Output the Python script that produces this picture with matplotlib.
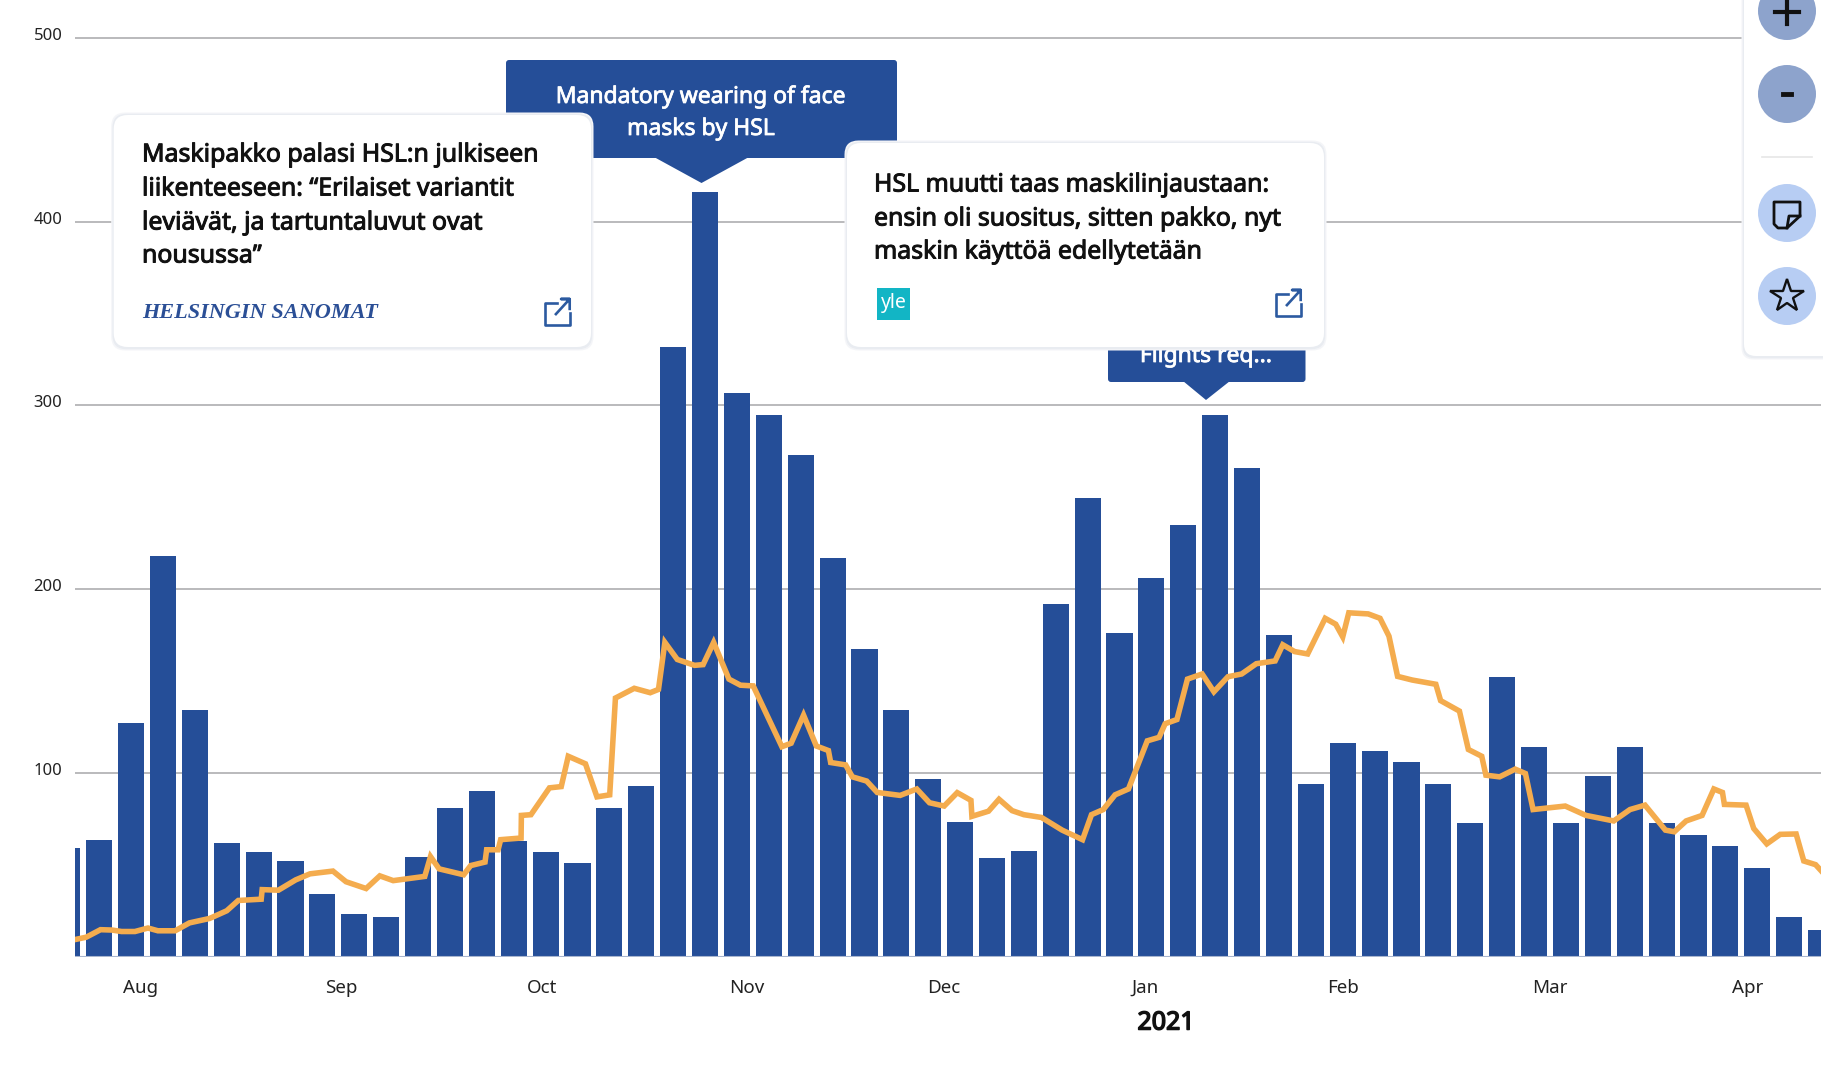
import numpy as np
import matplotlib
matplotlib.use("Agg")
import matplotlib.pyplot as plt
import matplotlib.patheffects as pe
from matplotlib.patches import FancyBboxPatch, Polygon, Circle, Rectangle
from matplotlib.transforms import ScaledTranslation

plt.rcParams["font.family"] = ["Noto Sans", "DejaVu Sans"]

# weekly bars
bar_values = [59, 63.5, 127, 218, 134, 62, 57, 52, 34, 23, 21.7, 54, 81, 90, 63, 57, 51, 81, 93,
              332, 416, 307, 295, 273, 217, 167.6, 134, 96.4, 73, 53.6, 57.7, 191.8, 249.7, 176,
              206, 235, 295, 266, 175, 94, 116, 112, 106, 94, 72.5, 152, 114, 72.5, 98.5, 114,
              72.5, 66, 60.4, 48, 21.7, 14.4]

# orange line, x in weeks from the first bar
line_weeks = [0.26, 0.59, 1.04, 1.40, 1.70, 2.12, 2.53, 2.84, 3.38, 3.83, 4.46, 5.00, 5.36, 6.08, 6.11,
              6.62, 7.16, 7.61, 8.33, 8.74, 9.37, 9.80, 10.22, 11.21, 11.39, 11.66, 12.43, 12.65, 13.10,
              13.15, 13.51, 13.59, 14.23, 14.24, 14.54, 15.12, 15.49, 15.71, 16.25, 16.61, 17.01, 17.19,
              17.78, 18.28, 18.54, 18.74, 19.13, 19.67, 19.94, 20.27, 20.75, 21.11, 21.51, 22.41, 22.70,
              23.09, 23.49, 23.87, 23.94, 24.41, 24.62, 25.07, 25.40, 26.12, 26.64, 27.04, 27.50, 27.91,
              28.34, 28.37, 28.89, 29.22, 29.63, 30.00, 30.55, 31.20, 31.84, 32.12, 32.49, 32.86, 33.28,
              33.87, 34.24, 34.43, 34.80, 35.13, 35.59, 35.96, 36.40, 36.83, 37.29, 37.88, 38.12, 38.49,
              38.90, 39.45, 39.78, 40.00, 40.19, 40.80, 41.17, 41.45, 41.72, 42.18, 42.92, 43.07, 43.66,
              43.94, 44.36, 44.49, 44.92, 45.41, 45.73, 45.97, 46.98, 47.63, 48.50, 49.01, 49.48, 50.12,
              50.40, 50.77, 51.27, 51.64, 51.91, 51.97, 52.65, 52.89, 53.30, 53.72, 54.22, 54.46, 54.83,
              55.02]
line_values = [9.3, 10.5, 14.6, 14.4, 13.6, 13.6, 15.5, 14.0, 14.0, 18.3, 20.7, 24.9, 30.5, 31.2, 36.4,
               36.1, 41.7, 45.0, 46.5, 40.7, 37.0, 43.9, 41.3, 43.6, 54.4, 47.7, 44.5, 49.5, 51.4,
               58.1, 58.1, 63.6, 64.5, 76.8, 77.2, 91.8, 92.5, 109, 104.9, 86.9, 88.0, 140.7,
               146, 143.6, 145.4, 171, 161.7, 158.5, 158.9, 171, 151, 147.7, 147.3, 114.2, 116.1,
               131.4, 114.6, 112.1, 105.6, 104.3, 97.8, 95.5, 89.3, 87.7, 91.2, 83.7, 81.9, 89.2,
               85.0, 76.3, 79.1, 85.6, 79.4, 77.2, 75.7, 68.8, 63.6, 77.2, 80, 88, 91.2,
               117.4, 119.3, 126.7, 129, 151, 153.8, 144.1, 152.3, 153.8, 159.4, 160.9, 169.7, 166,
               164.7, 184.1, 180.9, 174, 187.1, 186.5, 184.1, 174.4, 152.5, 150.5, 148.2, 139.3, 133.6,
               112.7, 109, 98.7, 97.8, 102, 99.6, 80, 81.9, 76.8, 73.8, 80, 82.4, 68.8,
               67.9, 73.8, 76.8, 91.2, 89.3, 82.8, 82.4, 69.7, 61.3, 66.5, 66.7, 52, 50,
               46.4]

month_labels = ["Aug", "Sep", "Oct", "Nov", "Dec", "Jan", "Feb", "Mar", "Apr"]
month_weeks = [2.31, 8.59, 14.9, 21.3, 27.5, 33.8, 40.0, 46.5, 52.7]
y_ticks = [100, 200, 300, 400, 500]

BLUE = "#254E98"
ORANGE = "#F4AC4E"
W, H = 1823, 1089


# Noto Sans here has one weight only, so thicken with a thin stroke
def heavy(color, w=0.55):
    return [pe.withStroke(linewidth=w, foreground=color)]


fig = plt.figure(figsize=(W / 100, H / 100), dpi=100, facecolor="white")

# chart axes: 75..1821 px across, baseline at 956.5 px
ax = fig.add_axes([75 / W, 1 - 956.5 / H, (1821 - 75) / W, 956.5 / H])
ax.bar(np.arange(len(bar_values)), bar_values, width=0.82, color=BLUE, zorder=2)
ax.plot(line_weeks, line_values, color=ORANGE, lw=4.0, solid_joinstyle="miter", zorder=3)
ax.set_xlim(0.24, 55.0)
ax.set_ylim(0, 520.7)
ax.set_yticks(y_ticks)
ax.set_xticks(month_weeks)
ax.set_xticklabels(month_labels)
ax.grid(axis="y", color="#B4B4B6", lw=1.3, zorder=1)
ax.set_axisbelow(True)
ax.tick_params(axis="both", length=0, labelsize=13.5, colors="#222222")
ax.tick_params(axis="x", pad=16)
ax.tick_params(axis="y", pad=9, labelsize=12)
for lab in ax.get_yticklabels():
    lab.set_transform(lab.get_transform() + ScaledTranslation(0, 4 / 100, fig.dpi_scale_trans))
for s in ax.spines.values():
    s.set_visible(False)
ax.axhline(0, color="#A9B6CF", lw=1.5, zorder=4)

# overlay in pixel coordinates for the popups and the toolbar
ov = fig.add_axes([0, 0, 1, 1], zorder=5)
ov.set_xlim(0, W)
ov.set_ylim(H, 0)
ov.axis("off")
ov.patch.set_alpha(0)

ov.text(1166, 1023, "2021", fontsize=18, ha="center", va="center", color="#111111",
        path_effects=heavy("#111111", 1.1))


def callout(x0, x1, y0, y1, tip_x, tip_y, base0, base1):
    ov.add_patch(FancyBboxPatch((x0, y0), x1 - x0, y1 - y0, boxstyle="round,pad=0,rounding_size=3",
                                fc=BLUE, ec="none", zorder=1))
    ov.add_patch(Polygon([(base0, y1 - 1), (tip_x, tip_y), (base1, y1 - 1)], fc=BLUE, ec="none", zorder=1))


def card(x0, x1, y0, y1, z=3, r=14):
    for grow, col in [(5, "#F4F5F8"), (2.5, "#E9ECF1")]:
        ov.add_patch(FancyBboxPatch((x0 - grow / 2, y0 - grow / 2), x1 - x0 + grow, y1 - y0 + grow + 1,
                                    boxstyle=f"round,pad=0,rounding_size={r}", fc=col, ec="none", zorder=z))
    ov.add_patch(FancyBboxPatch((x0, y0), x1 - x0, y1 - y0, boxstyle=f"round,pad=0,rounding_size={r}",
                                fc="white", ec="none", zorder=z))


def link_icon(x0, y0, size=26):
    c = "#2C5AA0"
    s = size
    ov.plot([x0 + s * .45, x0, x0, x0 + s * .95, x0 + s * .95], [y0 + s * .15, y0 + s * .15, y0 + s, y0 + s, y0 + s * .55],
            color=c, lw=1.9, solid_joinstyle="round", zorder=6)
    ov.plot([x0 + s * .42, x0 + s * .95, x0 + s * .62, x0 + s * .95, x0 + s * .95], [y0 + s * .58, y0, y0, y0, y0 + s * .38],
            color=c, lw=1.9, zorder=6)


# blue event flags
callout(506, 897, 60, 158, 701.5, 183, 654, 749)
for yy, t in zip([97, 129], ["Mandatory wearing of face", "masks by HSL"]):
    ov.text(701, yy, t, color="white", fontsize=16.5, ha="center", va="center", zorder=2,
            path_effects=heavy("white"))
callout(1108, 1305.5, 330, 382, 1206, 400, 1183, 1230)
ov.text(1206, 356, "Flights req...", color="white", fontsize=16.5, ha="center", va="center", zorder=2,
        path_effects=heavy("white"))

# news cards
card(113.7, 591, 115, 347)
for yy, t in zip([155, 189, 223, 256], ["Maskipakko palasi HSL:n julkiseen", "liikenteeseen: “Erilaiset variantit",
                                        "leviävät, ja tartuntaluvut ovat", "nousussa”"]):
    ov.text(142, yy, t, fontsize=17.9, color="#111111", va="center", zorder=5, path_effects=heavy("#111111", 0.7))
ov.text(142, 313, "HELSINGIN SANOMAT", fontsize=16, fontweight="bold", style="italic",
        family="Liberation Serif", color="#2B4F96", va="center", zorder=5)
link_icon(545, 299)

card(847, 1324, 143, 347)
for yy, t in zip([185, 219, 252], ["HSL muutti taas maskilinjaustaan:", "ensin oli suositus, sitten pakko, nyt",
                                   "maskin käyttöä edellytetään"]):
    ov.text(874, yy, t, fontsize=17.9, color="#111111", va="center", zorder=5, path_effects=heavy("#111111", 0.7))
ov.add_patch(Rectangle((877, 288), 33, 32, fc="#12B5C5", ec="none", zorder=5))
ov.text(893.5, 303, "yle", color="white", fontsize=14, ha="center", va="center", zorder=6)
link_icon(1276, 290)

# toolbar on the right
card(1744, 1900, -60, 356, z=7, r=12)
ov.plot([1762, 1812], [157, 157], color="#E6E6E6", lw=1.2, zorder=8)
for cy, col in [(11, "#8DA3CC"), (94, "#8DA3CC"), (213, "#B7CDF3"), (296, "#B7CDF3")]:
    ov.add_patch(Circle((1787, cy), 29, fc=col, ec="none", zorder=8))
ov.plot([1787, 1787], [0, 24], color="#111111", lw=3, zorder=9)
ov.plot([1775, 1799], [12, 12], color="#111111", lw=3, zorder=9)
ov.plot([1783, 1791], [94, 94], color="#111111", lw=3.5, zorder=9)
ov.add_patch(Polygon([(1774, 202), (1800, 202), (1800, 216), (1787, 228), (1778, 228), (1774, 224)],
                     fc="none", ec="#111111", lw=2, joinstyle="round", zorder=9))
ov.plot([1787, 1789, 1800], [228, 216, 216], color="#111111", lw=2, zorder=9)
ov.plot([1787], [296], marker="*", ms=25, mfc="none", mec="#111111", mew=1.7, zorder=9)

fig.savefig("out.png", dpi=100)
